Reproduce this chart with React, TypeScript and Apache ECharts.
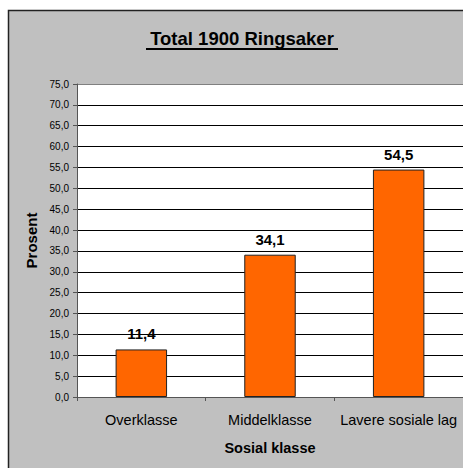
import React, { useEffect, useRef } from "react";
import * as echarts from "echarts";

const categories = ["Overklasse", "Middelklasse", "Lavere sosiale lag"];
const values = [11.4, 34.1, 54.5];
const titleText = "Total 1900 Ringsaker";
const yName = "Prosent";
const xName = "Sosial klasse";

const fmt = (v: number) => v.toFixed(1).replace(".", ",");

export default function App() {
  const ref = useRef<HTMLDivElement>(null);
  useEffect(() => {
    const chart = echarts.init(ref.current!, undefined, { renderer: "svg" });
    const gridColors: string[] = [];
    for (let i = 0; i <= 15; i++) gridColors.push(i === 15 ? "#808080" : "#000");
    chart.setOption({
      animation: false,
      backgroundColor: "#fff",
      textStyle: { fontFamily: "Liberation Sans, Arial, sans-serif" },
      graphic: [
        {
          type: "rect",
          shape: { x: 8.5, y: 10.5, width: 480, height: 480 },
          style: { fill: "#c0c0c0", stroke: "#222", lineWidth: 1.5 },
          z: -10,
        },
        {
          type: "text",
          x: 242,
          y: 38,
          style: {
            text: titleText,
            font: "bold 18.5px 'Liberation Sans', Arial, sans-serif",
            fill: "#000",
            align: "center",
            verticalAlign: "middle",
          },
        },
        {
          type: "line",
          shape: { x1: 146, y1: 49, x2: 338, y2: 49 },
          style: { stroke: "#000", lineWidth: 2 },
        },
      ],
      grid: {
        left: 77,
        top: 84,
        width: 387,
        height: 313,
        show: true,
        backgroundColor: "#fff",
        borderWidth: 0,
      },
      xAxis: {
        type: "category",
        data: categories,
        name: xName,
        nameLocation: "middle",
        nameGap: 43,
        nameTextStyle: { fontWeight: "bold", fontSize: 14.5, color: "#000" },
        axisLine: { lineStyle: { color: "#555", width: 1 } },
        axisTick: { show: true, length: 4, lineStyle: { color: "#555" } },
        axisLabel: { fontSize: 14.5, color: "#000", margin: 15, interval: 0 },
      },
      yAxis: {
        type: "value",
        min: 0,
        max: 75,
        interval: 5,
        name: yName,
        nameLocation: "middle",
        nameGap: 35,
        nameRotate: 90,
        nameTextStyle: { fontWeight: "bold", fontSize: 15, color: "#000" },
        axisLine: { show: true, lineStyle: { color: "#555", width: 1 } },
        axisTick: { show: true, length: 4, lineStyle: { color: "#555" } },
        axisLabel: { fontSize: 10, color: "#000", margin: 8, formatter: (v: number) => fmt(v) },
        splitLine: { show: true, lineStyle: { color: gridColors, width: 1 } },
      },
      series: [
        {
          type: "bar",
          data: values,
          barWidth: "40%",
          itemStyle: { color: "#ff6600", borderColor: "#222", borderWidth: 1 },
          label: {
            show: true,
            position: "top",
            distance: 8,
            fontWeight: "bold",
            fontSize: 15,
            color: "#000",
            formatter: (p: any) => fmt(p.value),
          },
        },
      ],
    });
    return () => chart.dispose();
  }, []);
  return (
    <div
      ref={ref}
      style={{ position: "absolute", left: 0, top: 0, width: 463, height: 468 }}
    />
  );
}
